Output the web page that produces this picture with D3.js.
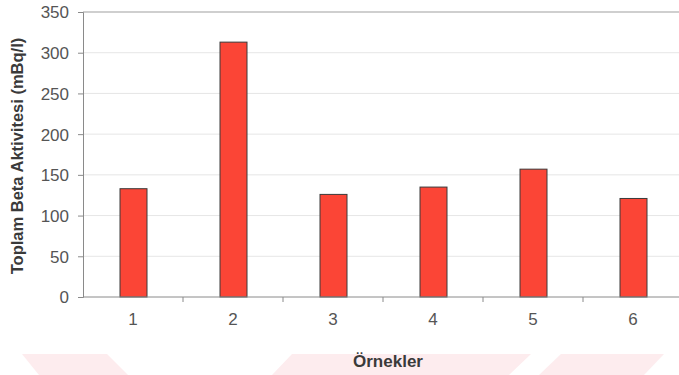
<!DOCTYPE html>
<html>
<head>
<meta charset="utf-8">
<script src="https://cdn.jsdelivr.net/npm/d3@7"></script>
<style>
  html, body { margin: 0; padding: 0; background: #fff; }
  svg { display: block; }
</style>
</head>
<body>
<svg id="chart" width="679" height="375"></svg>
<script>
const categories = ["1", "2", "3", "4", "5", "6"];
const values = [133, 313, 126, 135, 157, 121];
const yTicks = [0, 50, 100, 150, 200, 250, 300, 350];
const yTitle = "Toplam Beta Aktivitesi (mBq/l)";
const xTitle = "Örnekler";

(function () {
const svg = d3.select("#chart");
const pL = 83, pR = 683, pT = 12, pB = 297;
const font = "'Liberation Sans', Arial, sans-serif";

// faint watermark shapes in the background
const wm = [
  [[22, 354], [107, 354], [128, 375], [39, 375]],
  [[292, 354], [531, 354], [509, 375], [272, 375]],
  [[561, 354], [664, 354], [644, 375], [539, 375]]
];
svg.append("g").selectAll("polygon").data(wm).join("polygon")
  .attr("points", d => d.map(p => p.join(",")).join(" "))
  .attr("fill", "#fdecee");

const x = d3.scaleBand().domain(categories).range([pL, pR]).paddingInner(0).paddingOuter(0);
const y = d3.scaleLinear().domain([0, 350]).range([pB, pT]);

// gridlines
svg.append("g").selectAll("line").data(yTicks.filter(t => t > 0 && t < 350)).join("line")
  .attr("x1", pL).attr("x2", 679)
  .attr("y1", d => y(d)).attr("y2", d => y(d))
  .attr("stroke", "#e6e6e6").attr("stroke-width", 1);

// top border
svg.append("line").attr("x1", pL).attr("x2", 679).attr("y1", y(350)).attr("y2", y(350))
  .attr("stroke", "#a0a0a0").attr("stroke-width", 1.2);

// bars
const bw = 27;
svg.append("g").selectAll("rect").data(values).join("rect")
  .attr("x", (d, i) => x(categories[i]) + x.bandwidth() / 2 - bw / 2 + 0.5)
  .attr("y", d => y(d))
  .attr("width", bw)
  .attr("height", d => y(0) - y(d))
  .attr("fill", "#fb4536")
  .attr("stroke", "#3a3a3a")
  .attr("stroke-width", 1);

// y axis
const yAxis = d3.axisLeft(y).tickValues(yTicks).tickSize(5).tickPadding(9);
const gy = svg.append("g").attr("transform", `translate(${pL},0)`).call(yAxis);
gy.select(".domain").attr("stroke", "#8a8a8a");
gy.selectAll(".tick line").attr("stroke", "#8a8a8a");
gy.selectAll(".tick text")
  .attr("font-family", font)
  .attr("font-size", 17).attr("fill", "#555").attr("dy", "0.35em");

// x axis
const xAxis = d3.axisBottom(x).tickSize(0).tickPadding(16);
const gx = svg.append("g").attr("transform", `translate(0,${pB})`).call(xAxis);
gx.select(".domain").attr("stroke", "#8a8a8a").attr("d", `M${pL},0H679`);
gx.selectAll(".tick text")
  .attr("font-family", font)
  .attr("font-size", 17).attr("fill", "#555");
// category boundary ticks
gx.append("g").selectAll("line").data(categories.slice(1)).join("line")
  .attr("x1", d => x(d)).attr("x2", d => x(d))
  .attr("y1", 0).attr("y2", 5)
  .attr("stroke", "#8a8a8a");

// titles
svg.append("text")
  .attr("transform", `translate(23,156) rotate(-90)`)
  .attr("text-anchor", "middle")
  .attr("font-family", font)
  .attr("font-weight", "bold").attr("font-size", 16.5).attr("fill", "#3a3a3a")
  .text(yTitle);

svg.append("text")
  .attr("x", 388).attr("y", 367)
  .attr("text-anchor", "middle")
  .attr("font-family", font)
  .attr("font-weight", "bold").attr("font-size", 17).attr("fill", "#3a3a3a")
  .text(xTitle);
})();
</script>
</body>
</html>
